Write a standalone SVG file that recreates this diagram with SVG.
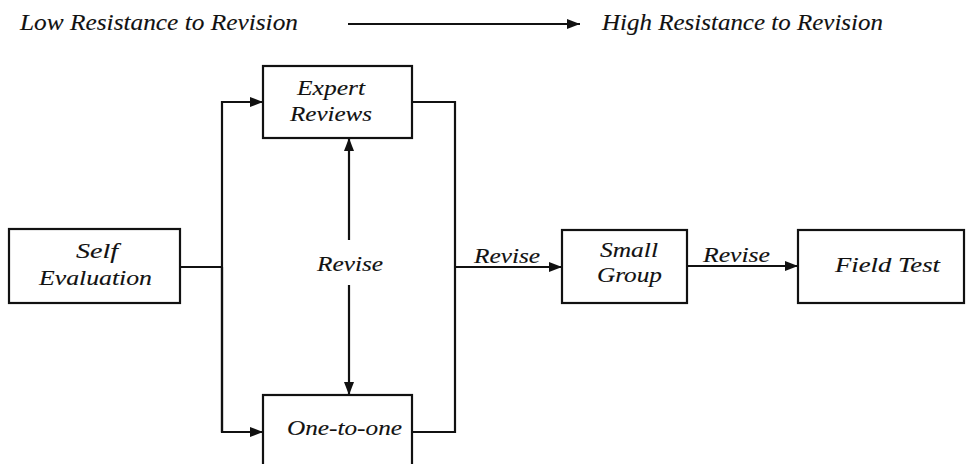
<svg xmlns="http://www.w3.org/2000/svg" width="966" height="464" viewBox="0 0 966 464">
<style>
.t{font-family:"Liberation Serif","Times New Roman",serif;font-style:italic;fill:#111;stroke:#111;stroke-width:0.12;}
.h{font-size:23px;}
.b{font-size:22px;}
.box{fill:#fff;stroke:#111;stroke-width:2.2;}
.ln{fill:none;stroke:#111;stroke-width:2.2;}
</style>
<defs>
<marker id="ah" viewBox="0 0 13 10" refX="13" refY="5" markerWidth="13" markerHeight="10" markerUnits="userSpaceOnUse" orient="auto">
<path d="M0,0 L13,5 L0,10 z" fill="#111"/>
</marker>
</defs>
<rect width="966" height="464" fill="#fff"/>
<g id="header">
<text class="t h" x="20" y="30" textLength="278" lengthAdjust="spacingAndGlyphs">Low Resistance to Revision</text>
<line class="ln" x1="348" y1="24" x2="580" y2="24" marker-end="url(#ah)"/>
<text class="t h" x="602" y="30" textLength="281" lengthAdjust="spacingAndGlyphs">High Resistance to Revision</text>
</g>
<g id="connectors">
<polyline class="ln" points="180,267 222,267"/>
<polyline class="ln" points="222,432 222,102 263,102" marker-end="url(#ah)"/>
<polyline class="ln" points="222,267 222,432 263,432" marker-end="url(#ah)"/>
<polyline class="ln" points="412,102 455,102 455,432 412,432"/>
<line class="ln" x1="455" y1="267" x2="562" y2="267" marker-end="url(#ah)"/>
<line class="ln" x1="687" y1="266" x2="798" y2="266" marker-end="url(#ah)"/>
<line class="ln" x1="349" y1="240" x2="349" y2="138" marker-end="url(#ah)"/>
<line class="ln" x1="349" y1="285" x2="349" y2="395" marker-end="url(#ah)"/>
<text class="t b" x="317" y="271" textLength="66" lengthAdjust="spacingAndGlyphs">Revise</text>
<text class="t b" x="474" y="263" textLength="66" lengthAdjust="spacingAndGlyphs">Revise</text>
<text class="t b" x="703" y="262" textLength="67" lengthAdjust="spacingAndGlyphs">Revise</text>
</g>
<g id="self-evaluation">
<rect class="box" x="9" y="229" width="171" height="74"/>
<text class="t b" x="76" y="258" textLength="42" lengthAdjust="spacingAndGlyphs">Self</text>
<text class="t b" x="39" y="285" textLength="113" lengthAdjust="spacingAndGlyphs">Evaluation</text>
</g>
<g id="expert-reviews">
<rect class="box" x="263" y="66" width="149" height="72"/>
<text class="t b" x="297" y="95" textLength="68" lengthAdjust="spacingAndGlyphs">Expert</text>
<text class="t b" x="290" y="121" textLength="82" lengthAdjust="spacingAndGlyphs">Reviews</text>
</g>
<g id="one-to-one">
<rect class="box" x="263" y="395" width="149" height="80"/>
<text class="t b" x="287" y="435" textLength="115" lengthAdjust="spacingAndGlyphs">One-to-one</text>
</g>
<g id="small-group">
<rect class="box" x="562" y="230" width="125" height="73"/>
<text class="t b" x="600" y="257" textLength="58" lengthAdjust="spacingAndGlyphs">Small</text>
<text class="t b" x="597" y="282" textLength="65" lengthAdjust="spacingAndGlyphs">Group</text>
</g>
<g id="field-test">
<rect class="box" x="798" y="230" width="166" height="73"/>
<text class="t b" x="835" y="272" textLength="105" lengthAdjust="spacingAndGlyphs">Field Test</text>
</g>
</svg>
